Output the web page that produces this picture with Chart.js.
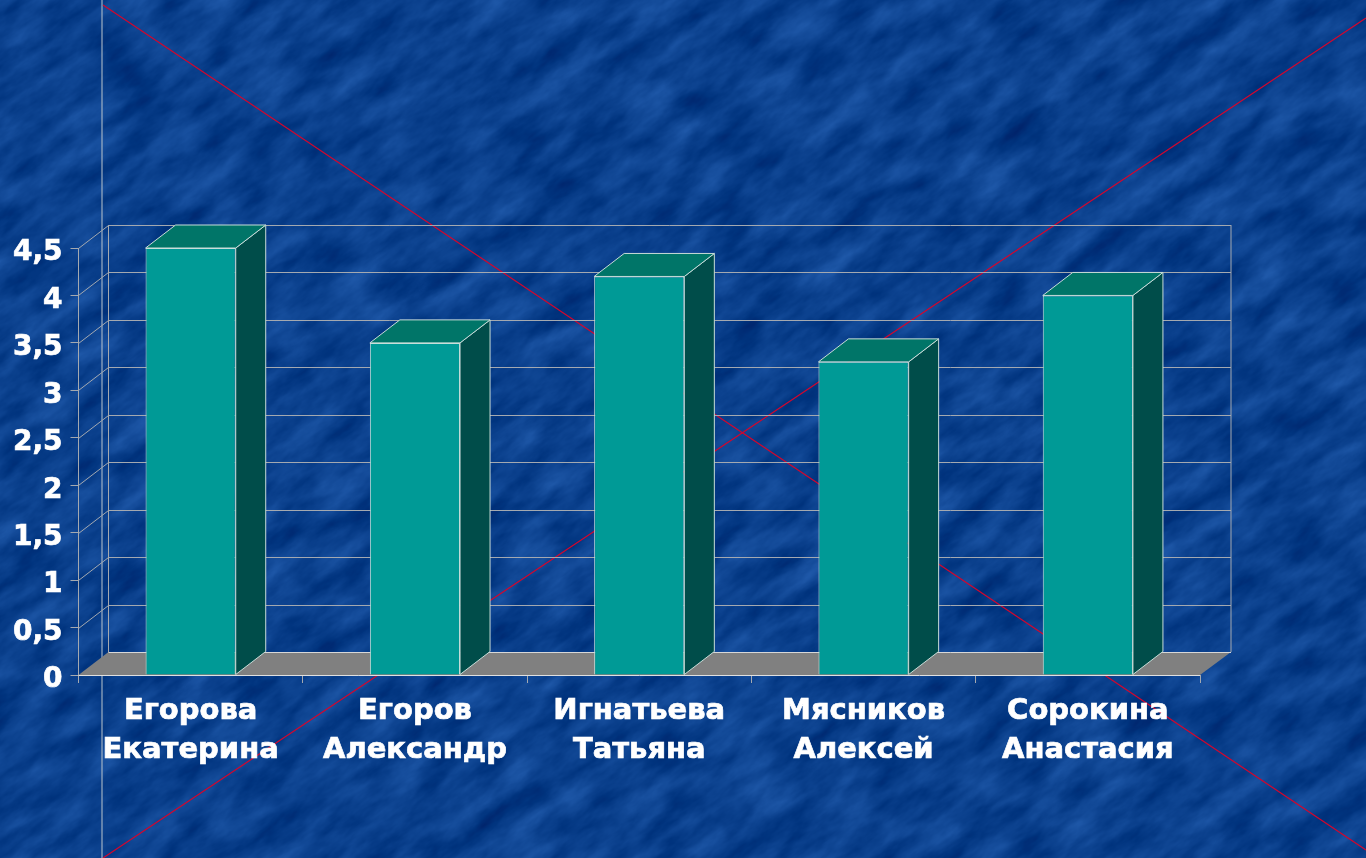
<!DOCTYPE html>
<html>
<head>
<meta charset="utf-8">
<title>Chart</title>
<script src="https://cdn.jsdelivr.net/npm/chart.js@4"></script>
<style>
  html, body { margin: 0; padding: 0; width: 1366px; height: 858px; overflow: hidden; background: #0a4189; }
  #texture { position: absolute; left: -500px; top: -700px; width: 2400px; height: 2400px; transform: rotate(-35deg); }
  #mycanvas { position: absolute; left: 0; top: 0; }
</style>
</head>
<body>
<svg id="texture" xmlns="http://www.w3.org/2000/svg">
  <filter id="paper" x="0" y="0" width="100%" height="100%" color-interpolation-filters="sRGB">
    <feTurbulence type="fractalNoise" baseFrequency="0.017 0.042" numOctaves="5" seed="11"/>
    <feColorMatrix type="matrix" values="0.2 0 0 0 -0.06  0.24 0 0 0 0.13  0.28 0 0 0 0.41  0 0 0 0 1"/>
  </filter>
  <rect width="2400" height="2400" filter="url(#paper)"/>
</svg>
<canvas id="mycanvas" width="1366" height="858"></canvas>
<script>
var names = [['Егорова', 'Екатерина'], ['Егоров', 'Александр'], ['Игнатьева', 'Татьяна'], ['Мясников', 'Алексей'], ['Сорокина', 'Анастасия']];
var marks = [4.5, 3.5, 4.2, 3.3, 4.0];
var yTickLabels = ['0', '0,5', '1', '1,5', '2', '2,5', '3', '3,5', '4', '4,5'];

var depthX = 30;
var depthY = 23;
var lineColor = '#a4a9b0';

function poly(ctx, pts, fill, stroke) {
  ctx.beginPath();
  ctx.moveTo(pts[0][0], pts[0][1]);
  for (var i = 1; i < pts.length; i++) ctx.lineTo(pts[i][0], pts[i][1]);
  ctx.closePath();
  ctx.fillStyle = fill;
  ctx.fill();
  if (stroke) {
    ctx.strokeStyle = stroke;
    ctx.lineWidth = 1;
    ctx.stroke();
  }
}

function segment(ctx, x1, y1, x2, y2, color, width) {
  ctx.beginPath();
  ctx.moveTo(x1, y1);
  ctx.lineTo(x2, y2);
  ctx.strokeStyle = color;
  ctx.lineWidth = width || 1;
  ctx.stroke();
}

// slide lines behind the chart
var guides = {
  id: 'guides',
  beforeDraw: function(chart) {
    var ctx = chart.ctx;
    ctx.save();
    segment(ctx, 102, 0, 102, 858, 'rgba(185,195,205,0.85)', 1.2);
    segment(ctx, 103, 5, 1366, 850, '#d4062c', 1.2);
    segment(ctx, 103, 858, 1366, 18, '#d4062c', 1.2);
    ctx.restore();
  }
};

// back wall, side wall and floor of the 3d box
var box = {
  id: 'box',
  beforeDatasetsDraw: function(chart) {
    var ctx = chart.ctx;
    var a = chart.chartArea;
    var y = chart.scales.y;
    ctx.save();
    y.ticks.forEach(function(t) {
      var py = Math.round(y.getPixelForValue(t.value)) + 0.5;
      if (t.value > 0) {
        segment(ctx, a.left, py, a.left + depthX, py - depthY, lineColor);
      }
      segment(ctx, a.left + depthX, py - depthY, a.right + depthX + 1, py - depthY, lineColor);
    });
    segment(ctx, a.left, a.top, a.left, a.bottom, lineColor);
    segment(ctx, a.left + depthX, a.top - depthY, a.left + depthX, a.bottom - depthY, lineColor);
    segment(ctx, a.right + depthX + 1, a.top - depthY, a.right + depthX + 1, a.bottom - depthY, lineColor);
    poly(ctx, [[a.left, a.bottom], [a.left + depthX, a.bottom - depthY], [a.right + depthX + 1, a.bottom - depthY], [a.right, a.bottom]], '#808080');
    segment(ctx, a.left + depthX, a.bottom - depthY + 0.5, a.right + depthX + 1, a.bottom - depthY + 0.5, '#d8d8d8');
    segment(ctx, a.left, a.bottom + 0.5, a.right, a.bottom + 0.5, '#e0e0e0');
    ctx.restore();
  },
  afterDatasetsDraw: function(chart) {
    var ctx = chart.ctx;
    ctx.save();
    chart.getDatasetMeta(0).data.forEach(function(bar) {
      var l = bar.x - bar.width / 2;
      var r = bar.x + bar.width / 2;
      var t = bar.y;
      var b = bar.base;
      poly(ctx, [[r, t], [r + depthX, t - depthY], [r + depthX, b - depthY], [r, b]], '#004d4a', '#c8dcd8');
      poly(ctx, [[l, t], [l + depthX, t - depthY], [r + depthX, t - depthY], [r, t]], '#007568', '#c8dcd8');
    });
    ctx.restore();
  }
};

var ctx = document.getElementById('mycanvas');
var barGraph = new Chart(ctx, {
  type: 'bar',
  data: {
    labels: names,
    datasets: [{
      data: marks,
      backgroundColor: '#009a96',
      borderColor: '#c8e0dc',
      borderWidth: 1,
      categoryPercentage: 1,
      barPercentage: 0.402
    }]
  },
  options: {
    responsive: false,
    animation: false,
    layout: { padding: { top: 248, right: 166, left: 0, bottom: 0 } },
    plugins: { legend: { display: false }, title: { display: false }, tooltip: { enabled: false } },
    scales: {
      x: {
        afterFit: function(s) { s.height = 183; },
        grid: { offset: true, drawOnChartArea: false, tickLength: 8, color: lineColor },
        border: { display: false },
        ticks: {
          color: '#ffffff',
          textStrokeColor: '#ffffff',
          textStrokeWidth: 0.7,
          padding: 9,
          maxRotation: 0,
          autoSkip: false,
          font: { family: 'DejaVu Sans', weight: 'bold', size: 29, lineHeight: 1.35 }
        }
      },
      y: {
        min: 0,
        max: 4.5,
        afterFit: function(s) { s.width = 78.5; },
        grid: { drawOnChartArea: false, tickLength: 8, color: lineColor },
        border: { display: false },
        ticks: {
          stepSize: 0.5,
          color: '#ffffff',
          textStrokeColor: '#ffffff',
          textStrokeWidth: 0.7,
          padding: 8,
          // empty first line pushes the label down a little, as in the original
          font: { family: 'DejaVu Sans', weight: 'bold', size: 28, lineHeight: '10px' },
          callback: function(v, i) { return ['', yTickLabels[i]]; }
        }
      }
    }
  },
  plugins: [guides, box]
});
</script>
</body>
</html>
